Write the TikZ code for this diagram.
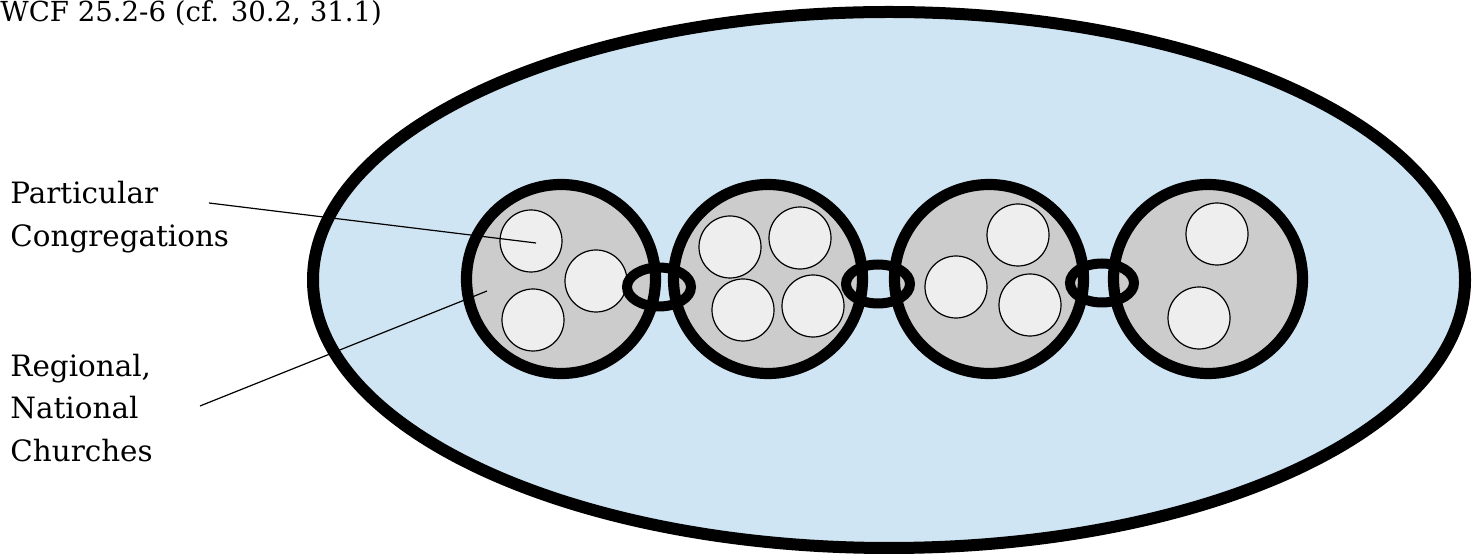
\documentclass[tikz,border=0pt]{standalone}
\usepackage{fontspec}
\setmainfont{DejaVu Serif}
\definecolor{bluefill}{HTML}{CFE5F3}
\definecolor{grayfill}{HTML}{CCCCCC}
\definecolor{congfill}{HTML}{EEEEEE}
\begin{document}
\begin{tikzpicture}[x=0.5pt,y=-0.5pt,
  lbl/.style={font=\fontsize{14.7}{17}\selectfont, anchor=base west, inner sep=0pt},
  ttl/.style={font=\fontsize{13.8}{16}\selectfont, anchor=base west, inner sep=0pt},
  church/.style={circle, draw=black, line width=5.6pt, fill=grayfill, minimum size=94.5pt, inner sep=0pt},
  cong/.style={circle, draw=black, line width=0.6pt, fill=congfill, minimum size=31pt, inner sep=0pt},
  chainlink/.style={draw=black, line width=5pt},
  leader/.style={draw=black, line width=0.6pt}]
\useasboundingbox (0,0) rectangle (1478,560);
% title
\node[ttl] (title) at (0,22) {WCF 25.2-6 (cf. 30.2, 31.1)};
% big ellipse
\draw[fill=bluefill, line width=6pt] (889,280) ellipse [x radius=288pt, y radius=134pt];
% regional churches
\node[church] (r1) at (561,279) {};
\node[church] (r2) at (768,279) {};
\node[church] (r3) at (989,279) {};
\node[church] (r4) at (1208,279) {};
% congregations
\node[cong] (c11) at (531,241) {};
\node[cong] (c12) at (596,281) {};
\node[cong] (c13) at (533,320) {};
\node[cong] (c21) at (730,247) {};
\node[cong] (c22) at (800,238) {};
\node[cong] (c23) at (743,310) {};
\node[cong] (c24) at (813,306) {};
\node[cong] (c31) at (1018,235) {};
\node[cong] (c32) at (956,287) {};
\node[cong] (c33) at (1030,305) {};
\node[cong] (c41) at (1217,234) {};
\node[cong] (c42) at (1199,318) {};
% chain links
\draw[chainlink] (659,287) ellipse [x radius=16pt, y radius=9.75pt];
\draw[chainlink] (878,284) ellipse [x radius=16pt, y radius=9.75pt];
\draw[chainlink] (1102,283) ellipse [x radius=16pt, y radius=9.75pt];
% labels
\node[lbl] (p1) at (10,204) {Particular};
\node[lbl] (p2) at (10,247) {Congregations};
\node[lbl] (q1) at (10,377) {Regional,};
\node[lbl] (q2) at (10,419) {National};
\node[lbl] (q3) at (10,462) {Churches};
% leaders
\coordinate (la) at (209,203);
\coordinate (lb) at (200,406);
\coordinate (ra) at (536,243);
\coordinate (rb) at (487,291);
\draw[leader] (la) -- (ra);
\draw[leader] (lb) -- (rb);
\end{tikzpicture}
\end{document}
